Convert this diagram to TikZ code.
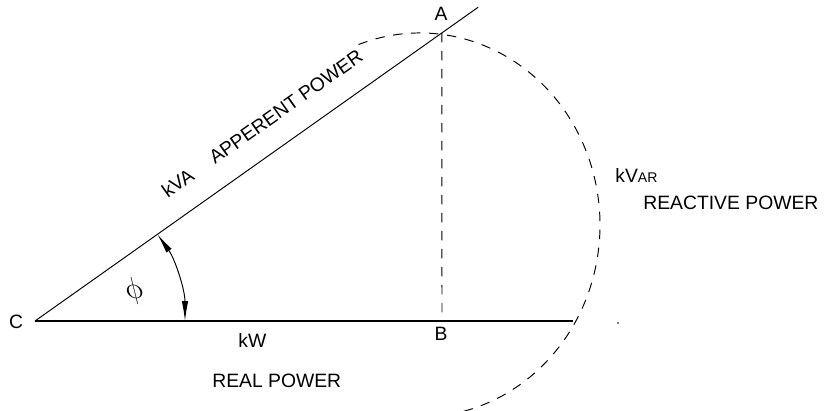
\documentclass[tikz,border=0pt]{standalone}
\usepackage{fontspec}
\setmainfont{Liberation Sans}
\usetikzlibrary{arrows.meta,calc}
\tikzset{
  lbl/.style={inner sep=0pt, font=\fontsize{11pt}{13pt}\selectfont},
  dsh/.style={line width=0.55pt, dash pattern=on 0.19cm off 0.17cm},
}
\begin{document}
\begin{tikzpicture}[>={Latex[length=0.4cm,width=0.13cm]}, x=0.02cm, y=0.02cm]
\useasboundingbox (0,0) rectangle (829,410);
% triangle
\coordinate (C) at (35,89);
\coordinate (B) at (442,89);
\coordinate (R) at (573,89);
\coordinate (A) at ($(C)+(35.3:498.5)$);
\coordinate (E) at ($(C)+(35.3:543)$);
\draw[line width=0.8pt] (C) -- (R);
\draw[line width=0.55pt] (C) -- (E);
\draw[dsh] (A) -- (B);
% kVAR arc
\coordinate (O) at (420,185);
\draw[dsh] ($(O)+(110:180 and 192)$) arc[start angle=110, end angle=-79, x radius=180, y radius=192];
\fill (618,87) circle (0.8);
% angle phi
\coordinate (P) at ($(C)+(0:150)$);
\draw[<->, line width=0.55pt] (P) arc[start angle=0, end angle=35.3, radius=150];
\node[inner sep=0pt, font=\fontsize{17pt}{19pt}\selectfont] (phi) at (135,119) {\reflectbox{$\phi$}};
% labels
\node[lbl] (labA) at (441,396) {A};
\node[lbl] (labB) at (441,76) {B};
\node[lbl] (labC) at (16,88) {C};
\node[lbl, rotate=35.3, anchor=base] (kva) at (266,281) {kVA\hspace{0.48cm}APPERENT POWER};
\node[lbl, anchor=base west] (kw) at (238,63) {kW};
\node[lbl, anchor=base west] (real) at (212,23) {REAL POWER};
\node[lbl, anchor=base west] (kvar) at (615,228) {kV{\fontsize{8pt}{9pt}\selectfont AR}};
\node[lbl, anchor=base west] (react) at (643,201) {REACTIVE POWER};
\end{tikzpicture}
\end{document}
